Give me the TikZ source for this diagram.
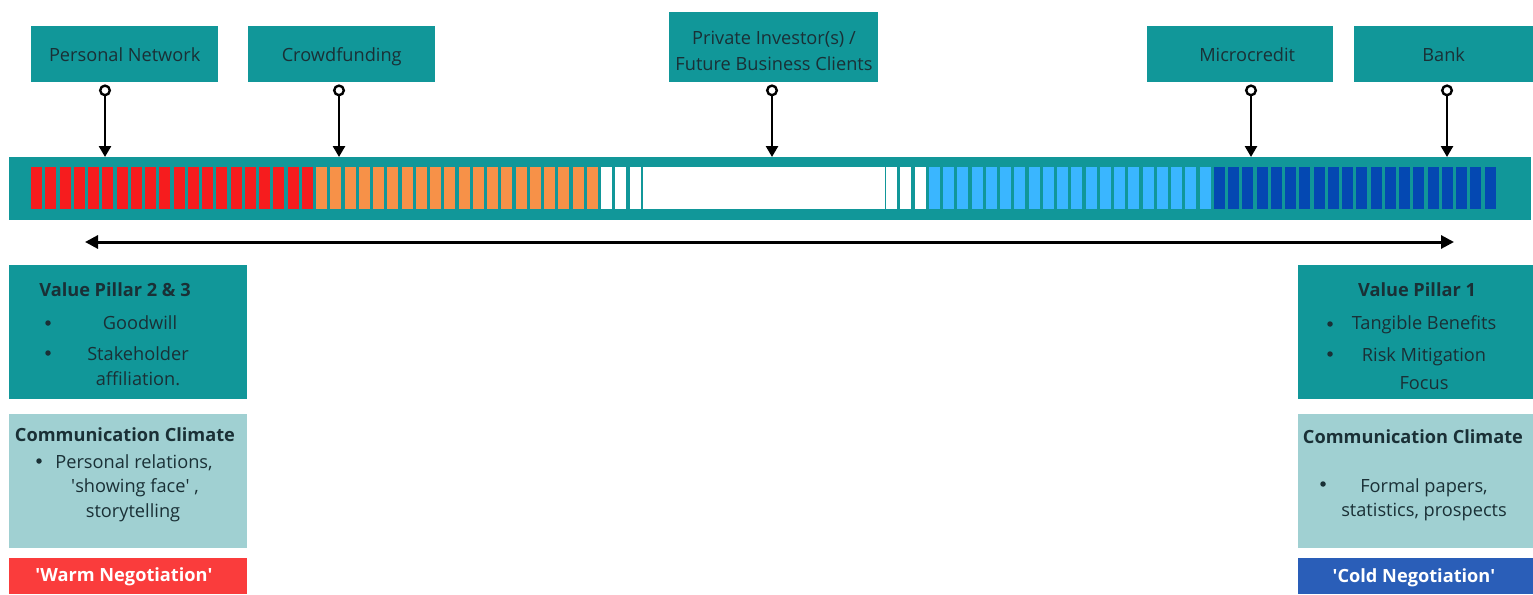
\documentclass[tikz,border=0pt]{standalone}
\usepackage{fontspec}
\setmainfont{Open Sans}
\usetikzlibrary{arrows.meta}

\definecolor{tealbox}{RGB}{17,151,153}
\definecolor{tealpale}{RGB}{160,208,210}
\definecolor{ink}{RGB}{26,48,54}
\definecolor{segred}{RGB}{246,28,30}
\definecolor{segorange}{RGB}{247,145,72}
\definecolor{segsky}{RGB}{58,182,255}
\definecolor{segnavy}{RGB}{4,72,178}
\definecolor{warmred}{RGB}{250,60,60}
\definecolor{coldblue}{RGB}{42,94,184}

\newcommand{\sq}{\textquotesingle}
% invisible rule that centres a single label line in its box
\newcommand{\boxstrut}{\rule[-5pt]{0pt}{24pt}}

\begin{document}
\begin{tikzpicture}[x=1pt,y=-1pt,
  panel/.style={draw=none, inner sep=0pt, anchor=north west},
  tealpanel/.style={panel, fill=tealbox},
  palepanel/.style={panel, fill=tealpale},
  txt/.style={text=ink, inner sep=0pt, align=center,
    font=\fontsize{18.2}{25}\selectfont},
  boldtxt/.style={txt, font=\fontsize{18.2}{25}\selectfont\bfseries},
  tagtxt/.style={boldtxt, text=white},
  bulletdot/.style={circle, fill=ink, inner sep=0pt, minimum size=5.5pt},
  pin/.style={line width=2.6pt, black,
    {Circle[open, length=12pt, width=12pt, line width=2.4pt]}-{Triangle[length=11pt, width=12pt]}},
  span/.style={line width=3pt, black,
    {Triangle[length=13pt, width=13pt]}-{Triangle[length=13pt, width=13pt]}}
]
\useasboundingbox (0,0) rectangle (1533,594);

% funding sources
\node[tealpanel, minimum width=187pt, minimum height=56pt, txt] (pn) at (31,26) {\boxstrut Personal Network};
\node[tealpanel, minimum width=187pt, minimum height=56pt, txt] (cf) at (248,26) {\boxstrut Crowdfunding};
\node[tealpanel, minimum width=209pt, minimum height=70pt] (pi) at (669,12) {};
\node[txt, font=\fontsize{18.2}{26}\selectfont] (pit) at (774,51) {Private Investor(s) /\\Future Business Clients};
\node[tealpanel, minimum width=186pt, minimum height=56pt, txt] (mc) at (1147,26) {\boxstrut\hspace*{14pt}Microcredit};
\node[tealpanel, minimum width=179pt, minimum height=56pt, txt] (bk) at (1354,26) {\boxstrut Bank};

% scale bar
\node[tealpanel, minimum width=1522pt, minimum height=63pt] (bar) at (9,157) {};

\foreach \i in {0,...,102}{
  \pgfmathsetmacro{\xa}{31+\i*14.25}
  \ifnum\i<20 \def\segcol{segred}\else
  \ifnum\i<40 \def\segcol{segorange}\else
  \ifnum\i<63 \def\segcol{white}\else
  \ifnum\i<83 \def\segcol{segsky}\else
  \def\segcol{segnavy}\fi\fi\fi\fi
  \fill[\segcol] (\xa,167) rectangle ++(11,42);
}
% neutral middle section
\fill[white] (643,167) rectangle (885,209);

% pointers onto the bar
\draw[pin] ([yshift=-2pt]pn.south -| 105,0) -- (105,0 |- bar.north);
\draw[pin] ([yshift=-2pt]cf.south -| 339,0) -- (339,0 |- bar.north);
\draw[pin] ([yshift=-2pt]pi.south -| 772,0) -- (772,0 |- bar.north);
\draw[pin] ([yshift=-2pt]mc.south -| 1251,0) -- (1251,0 |- bar.north);
\draw[pin] ([yshift=-2pt]bk.south -| 1447,0) -- (1447,0 |- bar.north);

% spectrum arrow
\coordinate (spanL) at (85,242);
\coordinate (spanR) at (1454,242);
\draw[span] (spanL) -- (spanR);

% warm side
\node[tealpanel, minimum width=238pt, minimum height=134pt] (vpL) at (9,265) {};
\node[boldtxt] (vpLt) at (115,290) {Value Pillar 2 \& 3};
\node[bulletdot] (vpLb1) at (48,323) {};
\node[txt] (vpLi1) at (140,323) {Goodwill};
\node[bulletdot] (vpLb2) at (48,353) {};
\node[txt, anchor=north] (vpLi2) at (138,346) {Stakeholder\\affiliation.};

\node[palepanel, minimum width=238pt, minimum height=134pt] (ccL) at (9,414) {};
\node[boldtxt] (ccLt) at (125,435) {Communication Climate};
\node[bulletdot] (ccLb) at (39,461) {};
\node[txt, anchor=north, font=\fontsize{18.2}{24.5}\selectfont] (ccLi) at (133,454)
  {\hspace*{2pt}Personal relations,\\\hspace*{4pt}\sq showing face\sq{} ,\\storytelling};

\node[panel, fill=warmred, minimum width=238pt, minimum height=36pt] (wn) at (9,558) {};
\node[tagtxt] (wnt) at (124,577) {\sq Warm Negotiation\sq};

% cold side
\node[tealpanel, minimum width=235pt, minimum height=134pt] (vpR) at (1298,265) {};
\node[boldtxt] (vpRt) at (1417,290) {Value Pillar 1};
\node[bulletdot] (vpRb1) at (1330,324) {};
\node[txt] (vpRi1) at (1424,325) {Tangible Benefits};
\node[bulletdot] (vpRb2) at (1330,354) {};
\node[txt, anchor=north, font=\fontsize{18.2}{28}\selectfont] (vpRi2) at (1424,347) {Risk Mitigation\\Focus};

\node[palepanel, minimum width=235pt, minimum height=134pt] (ccR) at (1298,414) {};
\node[boldtxt] (ccRt) at (1413,437) {Communication Climate};
\node[bulletdot] (ccRb) at (1323,484) {};
\node[txt, anchor=north, font=\fontsize{18.2}{24}\selectfont] (ccRi) at (1424,478) {Formal papers,\\statistics, prospects};

\node[panel, fill=coldblue, minimum width=235pt, minimum height=36pt] (cn) at (1298,558) {};
\node[tagtxt] (cnt) at (1414,578) {\sq Cold Negotiation\sq};
\end{tikzpicture}
\end{document}
